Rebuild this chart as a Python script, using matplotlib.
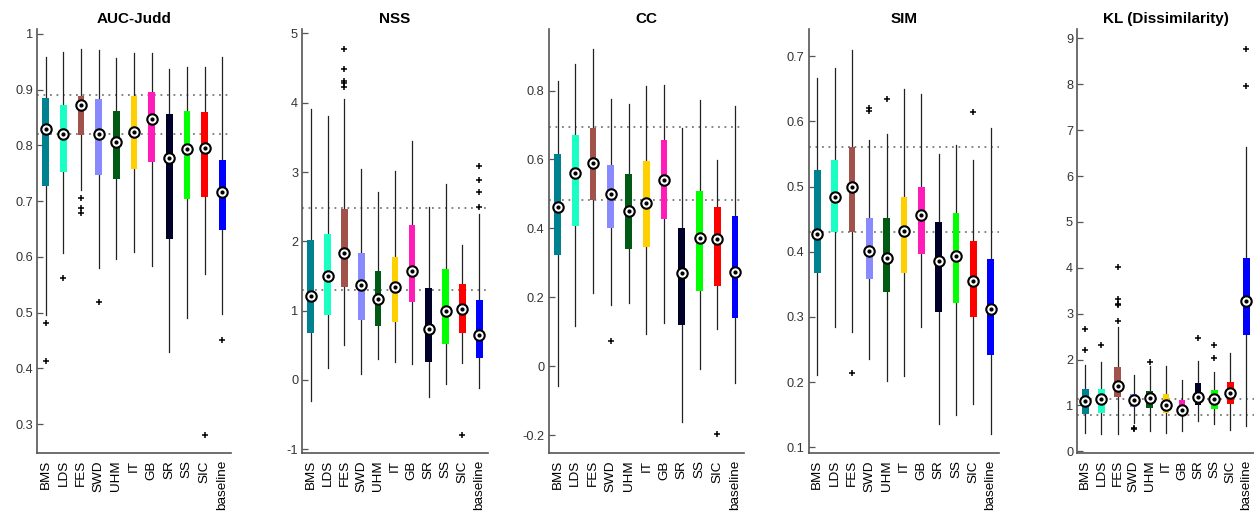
import matplotlib
matplotlib.use("Agg")
import matplotlib.pyplot as plt

plt.rcParams['font.family'] = ['Liberation Sans', 'DejaVu Sans']

models = ["BMS", "LDS", "FES", "SWD", "UHM", "IT", "GB", "SR", "SS", "SIC", "baseline"]
colors = ["#00818F", "#1AFFC4", "#A0524B", "#8A8AFF", "#005A14", "#FFD000",
          "#FF1CB8", "#000028", "#00FF00", "#FF0000", "#0000FF"]

# ---- AUC-Judd ----
auc_whishi = [0.958, 0.968, 0.973, 0.970, 0.956, 0.965, 0.965, 0.937, 0.941, 0.940, 0.958]
auc_q3     = [0.885, 0.873, 0.889, 0.883, 0.862, 0.889, 0.896, 0.856, 0.862, 0.860, 0.773]
auc_med    = [0.830, 0.820, 0.872, 0.820, 0.806, 0.824, 0.847, 0.778, 0.794, 0.796, 0.716]
auc_q1     = [0.727, 0.753, 0.819, 0.746, 0.739, 0.757, 0.770, 0.633, 0.703, 0.708, 0.648]
auc_whislo = [0.495, 0.607, 0.720, 0.581, 0.597, 0.609, 0.584, 0.429, 0.491, 0.569, 0.497]
auc_out    = [[0.482, 0.413], [0.562], [0.706, 0.688, 0.678], [0.519], [], [], [], [], [], [0.280], [0.451]]
auc_ref    = [0.891, 0.820]
auc_ylim   = (0.248, 1.008)
auc_ticks  = [0.3, 0.4, 0.5, 0.6, 0.7, 0.8, 0.9, 1.0]
auc_ticklabels = ["0.3", "0.4", "0.5", "0.6", "0.7", "0.8", "0.9", "1"]

# ---- NSS ----
nss_whishi = [3.91, 3.81, 4.05, 3.05, 2.71, 3.01, 3.45, 2.50, 2.83, 1.94, 2.40]
nss_q3     = [2.02, 2.10, 2.46, 1.83, 1.57, 1.77, 2.24, 1.33, 1.60, 1.38, 1.15]
nss_med    = [1.21, 1.50, 1.83, 1.37, 1.17, 1.34, 1.57, 0.73, 1.00, 1.02, 0.65]
nss_q1     = [0.67, 0.94, 1.34, 0.86, 0.78, 0.84, 1.13, 0.26, 0.52, 0.68, 0.31]
nss_whislo = [-0.30, 0.175, 0.50, 0.09, 0.30, 0.26, 0.23, -0.25, -0.06, 0.25, -0.12]
nss_out    = [[], [], [4.77, 4.48, 4.31, 4.29, 4.22], [], [], [], [], [], [], [-0.79],
              [3.09, 2.88, 2.71, 2.49]]
nss_ref    = [2.475, 1.30]
nss_ylim   = (-1.06, 5.06)
nss_ticks  = [-1, 0, 1, 2, 3, 4, 5]
nss_ticklabels = ["-1", "0", "1", "2", "3", "4", "5"]

# ---- CC ----
cc_whishi = [0.829, 0.876, 0.921, 0.777, 0.762, 0.813, 0.816, 0.692, 0.774, 0.598, 0.755]
cc_q3     = [0.617, 0.672, 0.692, 0.583, 0.559, 0.596, 0.658, 0.401, 0.509, 0.462, 0.435]
cc_med    = [0.462, 0.561, 0.590, 0.501, 0.450, 0.474, 0.540, 0.271, 0.372, 0.370, 0.274]
cc_q1     = [0.324, 0.406, 0.482, 0.401, 0.341, 0.347, 0.428, 0.119, 0.217, 0.232, 0.139]
cc_whislo = [-0.058, 0.116, 0.213, 0.179, 0.184, 0.092, 0.124, -0.161, -0.008, 0.109, -0.048]
cc_out    = [[], [], [], [0.074], [], [], [], [], [], [-0.196], []]
cc_ref    = [0.693, 0.481]
cc_ylim   = (-0.253, 0.978)
cc_ticks  = [-0.2, 0.0, 0.2, 0.4, 0.6, 0.8]
cc_ticklabels = ["-0.2", "0", "0.2", "0.4", "0.6", "0.8"]

# ---- SIM ----
sim_whishi = [0.667, 0.682, 0.710, 0.571, 0.581, 0.649, 0.642, 0.550, 0.563, 0.540, 0.590]
sim_q3     = [0.525, 0.540, 0.560, 0.452, 0.451, 0.484, 0.500, 0.445, 0.459, 0.416, 0.389]
sim_med    = [0.427, 0.484, 0.499, 0.401, 0.391, 0.432, 0.457, 0.386, 0.394, 0.355, 0.312]
sim_q1     = [0.368, 0.431, 0.431, 0.358, 0.338, 0.368, 0.396, 0.308, 0.321, 0.300, 0.241]
sim_whislo = [0.211, 0.285, 0.277, 0.236, 0.202, 0.210, 0.285, 0.136, 0.150, 0.166, 0.120]
sim_out    = [[], [], [0.214], [0.621, 0.616], [0.634], [], [], [], [], [0.614], []]
sim_ref    = [0.561, 0.430]
sim_ylim   = (0.091, 0.741)
sim_ticks  = [0.1, 0.2, 0.3, 0.4, 0.5, 0.6, 0.7]
sim_ticklabels = ["0.1", "0.2", "0.3", "0.4", "0.5", "0.6", "0.7"]

# ---- KL ----
kl_whishi = [1.88, 1.95, 2.72, 1.66, 1.86, 1.87, 1.55, 1.97, 1.72, 2.15, 6.64]
kl_q3     = [1.35, 1.36, 1.83, 1.24, 1.32, 1.25, 1.12, 1.48, 1.34, 1.51, 4.21]
kl_med    = [1.10, 1.15, 1.42, 1.11, 1.17, 1.00, 0.91, 1.19, 1.15, 1.28, 3.28]
kl_q1     = [0.81, 0.84, 1.19, 0.96, 0.94, 0.83, 0.79, 1.00, 0.93, 1.04, 2.53]
kl_whislo = [0.39, 0.37, 0.37, 0.62, 0.45, 0.39, 0.44, 0.65, 0.60, 0.46, 0.56]
kl_out    = [[2.67, 2.21], [2.31], [4.02, 3.33, 3.21, 3.19, 2.85], [0.50, 0.49], [1.94], [], [],
             [2.48], [2.32, 2.03], [], [8.78, 7.96]]
kl_ref    = [1.14, 0.785]
kl_ylim   = (-0.044, 9.2)
kl_ticks  = [0, 1, 2, 3, 4, 5, 6, 7, 8, 9]
kl_ticklabels = [str(t) for t in kl_ticks]

panels = [
    ("AUC-Judd", auc_whishi, auc_q3, auc_med, auc_q1, auc_whislo, auc_out, auc_ref, auc_ylim, auc_ticks, auc_ticklabels),
    ("NSS", nss_whishi, nss_q3, nss_med, nss_q1, nss_whislo, nss_out, nss_ref, nss_ylim, nss_ticks, nss_ticklabels),
    ("CC", cc_whishi, cc_q3, cc_med, cc_q1, cc_whislo, cc_out, cc_ref, cc_ylim, cc_ticks, cc_ticklabels),
    ("SIM", sim_whishi, sim_q3, sim_med, sim_q1, sim_whislo, sim_out, sim_ref, sim_ylim, sim_ticks, sim_ticklabels),
    ("KL (Dissimilarity)", kl_whishi, kl_q3, kl_med, kl_q1, kl_whislo, kl_out, kl_ref, kl_ylim, kl_ticks, kl_ticklabels),
]

W, H = 1254, 514
fig = plt.figure(figsize=(W / 100, H / 100), dpi=100)

# axes pixel extents (left, right)
px_lr = [(37, 231), (302.3, 487.7), (548.7, 743.9), (808.7, 999.3), (1077.3, 1254.5)]
px_top, px_bot = 29.3, 453.3
box_px = 6.7
axis_col = "#555555"
text_col = "#333333"

for (title, whi, q3, med, q1, wlo, outs, ref, ylim, ticks, tlabels), (l, r) in zip(panels, px_lr):
    ax = fig.add_axes([l / W, 1 - px_bot / H, (r - l) / W, (px_bot - px_top) / H])
    n = len(models)
    pos = list(range(1, n + 1))
    px_per_unit = (r - l) / (n)
    width = box_px / px_per_unit
    stats = []
    for i in range(n):
        stats.append(dict(med=med[i], q1=q1[i], q3=q3[i], whislo=wlo[i], whishi=whi[i],
                          fliers=outs[i], label=models[i]))
    bp = ax.bxp(stats, positions=pos, widths=width, patch_artist=True,
                showcaps=False, showfliers=True,
                whiskerprops=dict(color="#222222", linewidth=0.9),
                medianprops=dict(linewidth=0),
                flierprops=dict(marker="+", markersize=5, markeredgecolor="black",
                                markeredgewidth=1.1, linestyle="none"),
                boxprops=dict(linewidth=0))
    for patch, c in zip(bp["boxes"], colors):
        patch.set_facecolor(c)
        patch.set_edgecolor(c)
        patch.set_zorder(3)
    for wl in bp["whiskers"]:
        wl.set_zorder(2)
    for fl in bp["fliers"]:
        fl.set_zorder(4)
    # reference dotted lines (best model's quartiles)
    for yv in ref:
        ax.axhline(yv, color="#7a7a7a", linestyle=(0, (1, 2.6)), linewidth=1.3, zorder=1)
    # median markers (MATLAB compact style)
    ax.plot(pos, med, linestyle="none", marker="o", markersize=7.5,
            markerfacecolor="white", markeredgecolor="black", markeredgewidth=1.5, zorder=5)
    ax.plot(pos, med, linestyle="none", marker="o", markersize=2.0,
            markerfacecolor="black", markeredgecolor="black", zorder=6)

    ax.set_xlim(0.5, n + 0.5)
    ax.set_ylim(*ylim)
    ax.set_yticks(ticks)
    ax.set_yticklabels(tlabels)
    ax.set_xticks(pos)
    ax.set_xticklabels(models, rotation=90, fontsize=9.7, color="black")
    ax.tick_params(axis="x", length=0, pad=5)
    ax.tick_params(axis="y", direction="in", length=4, width=0.9, color=axis_col,
                   labelsize=9.2, labelcolor=text_col, pad=3)
    for s in ["top", "right"]:
        ax.spines[s].set_visible(False)
    for s in ["left", "bottom"]:
        ax.spines[s].set_color(axis_col)
        ax.spines[s].set_linewidth(1.2)
    ax.set_title(title, fontsize=11, fontweight="bold", pad=4.5)

fig.savefig("out.png", dpi=100)
